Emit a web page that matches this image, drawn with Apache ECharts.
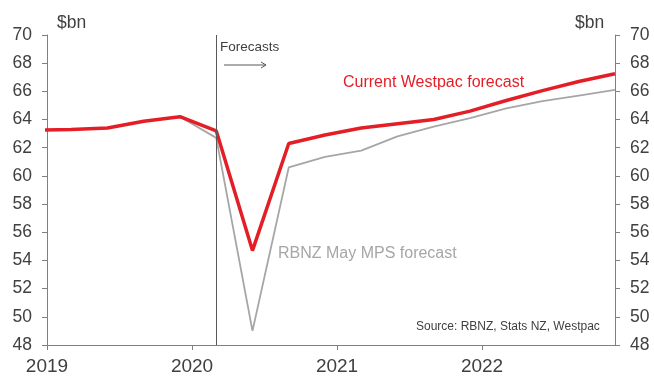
<!DOCTYPE html>
<html>
<head>
<meta charset="utf-8">
<script src="https://cdn.jsdelivr.net/npm/echarts@6/dist/echarts.min.js"></script>
<style>
  html, body { margin: 0; padding: 0; background: #fff; }
  #chart { width: 654px; height: 376px; }
</style>
</head>
<body>
<div id="chart"></div>
<script>
// quarter ends, Dec 2018 .. Dec 2022 (fractional years)
var quarters = [
  2018.917,
  2019.167, 2019.417, 2019.667, 2019.917,
  2020.167, 2020.417, 2020.667, 2020.917,
  2021.167, 2021.417, 2021.667, 2021.917,
  2022.167, 2022.417, 2022.667, 2022.917
];
var westpac = [
  63.25,
  63.3, 63.4, 63.88, 64.2,
  63.2, 54.7, 62.3, 62.9,
  63.4, 63.7, 64.0, 64.6,
  65.35, 66.05, 66.7, 67.25
];
var rbnz = [
  63.25,
  63.3, 63.4, 63.88, 64.2,
  62.7, 49.0, 60.6, 61.35,
  61.8, 62.8, 63.5, 64.1,
  64.8, 65.3, 65.7, 66.1
];
var yearTicks = [2019, 2020, 2021, 2022];
var forecastStart = 2020.167;

var chart = echarts.init(document.getElementById('chart'));

function pairs(ys) {
  return quarters.map(function (q, i) { return [q, ys[i]]; });
}

var axisGrey = '#808080';
var labelGrey = '#404040';
var font = 'Liberation Sans, Arial, sans-serif';

var yAxisBase = {
  type: 'value',
  min: 48,
  max: 70,
  interval: 2,
  splitLine: { show: false },
  axisLine: { show: true, lineStyle: { color: axisGrey, width: 1 } },
  axisTick: { show: true, length: 5, lineStyle: { color: axisGrey } },
  axisLabel: { color: labelGrey, fontSize: 17.5, fontFamily: font, margin: 15 }
};

chart.setOption({
  backgroundColor: '#fff',
  animation: false,
  grid: { left: 47, right: 39, top: 35, bottom: 30, containLabel: false },
  xAxis: {
    type: 'value',
    min: 2019,
    max: 2022.917,
    interval: 1,
    splitLine: { show: false },
    axisLine: { show: true, onZero: false, lineStyle: { color: axisGrey } },
    axisTick: { show: true, length: 5, lineStyle: { color: axisGrey } },
    axisLabel: {
      color: labelGrey, fontSize: 19, fontFamily: font, margin: 12,
      showMaxLabel: false,
      formatter: function (v) { return yearTicks.indexOf(v) >= 0 ? String(v) : ''; }
    }
  },
  yAxis: [
    Object.assign({}, yAxisBase, { position: 'left' }),
    Object.assign({}, yAxisBase, { position: 'right' })
  ],
  series: [
    {
      name: 'RBNZ May MPS forecast',
      type: 'line',
      data: pairs(rbnz),
      symbol: 'none',
      clip: true,
      lineStyle: { color: '#a6a6a6', width: 1.8 },
      z: 2,
      markLine: {
        silent: true,
        symbol: 'none',
        label: { show: false },
        lineStyle: { color: '#595959', width: 1, type: 'solid' },
        data: [{ xAxis: forecastStart }]
      }
    },
    {
      name: 'Current Westpac forecast',
      type: 'line',
      data: pairs(westpac),
      symbol: 'none',
      clip: true,
      lineStyle: { color: '#e41e26', width: 3.5 },
      z: 3
    }
  ],
  graphic: [
    { type: 'text', left: 57, top: 14, style: { text: '$bn', fontSize: 17.5, fontFamily: font, fill: labelGrey } },
    { type: 'text', left: 575, top: 14, style: { text: '$bn', fontSize: 17.5, fontFamily: font, fill: labelGrey } },
    { type: 'text', left: 220, top: 40, style: { text: 'Forecasts', fontSize: 13.5, fontFamily: font, fill: labelGrey } },
    { type: 'line', shape: { x1: 224, y1: 65, x2: 266, y2: 65 }, style: { stroke: '#595959', lineWidth: 1 } },
    { type: 'polyline', shape: { points: [[261, 62], [266, 65], [261, 68]] }, style: { stroke: '#595959', lineWidth: 1, fill: null } },
    { type: 'text', left: 343, top: 75, style: { text: 'Current Westpac forecast', fontSize: 16, fontFamily: font, fill: '#e41e26' } },
    { type: 'text', left: 278, top: 246, style: { text: 'RBNZ May MPS forecast', fontSize: 16, fontFamily: font, fill: '#a6a6a6' } },
    { type: 'text', left: 416, top: 321, style: { text: 'Source: RBNZ, Stats NZ, Westpac', fontSize: 12, fontFamily: font, fill: labelGrey } }
  ]
});
</script>
</body>
</html>
